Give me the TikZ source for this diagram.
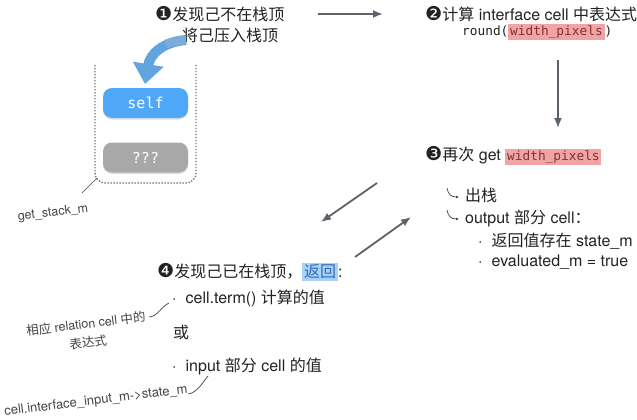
\documentclass[tikz,border=0pt]{standalone}
\usepackage{fontspec}
\setmainfont{TeX Gyre Heros}
\setmonofont{DejaVu Sans Mono}
\newfontfamily\cjk{Noto Sans CJK SC}
\newfontfamily\dv[Scale=1.2]{DejaVu Sans}
\usetikzlibrary{arrows.meta,shadows}
\definecolor{arr}{HTML}{5C636B}
\definecolor{txt}{HTML}{222222}
\definecolor{ann}{HTML}{444444}
\definecolor{hlred}{HTML}{F2A3A3}
\definecolor{hlredtxt}{HTML}{7A3535}
\definecolor{hlblue}{HTML}{A9D1F7}
\definecolor{hlbluetxt}{HTML}{2F6FB5}
\definecolor{selfblue}{HTML}{4FA8F7}
\definecolor{qgray}{HTML}{A8A8A8}
\definecolor{bigarrow}{HTML}{62A4DE}
\definecolor{bigarrowtop}{HTML}{8AB3D6}
\definecolor{dots}{HTML}{777777}
\newcommand\zh[1]{{\cjk #1}}
\newcommand\hlbox[3]{{\setlength\fboxsep{1.8pt}\colorbox{#1}{\color{#2}#3}}}
\tikzset{
  lbl/.style={inner sep=0pt, anchor=west, text=txt, font=\fontsize{16}{19}\selectfont},
  annot/.style={inner sep=0pt, text=ann, font=\fontsize{12.5}{15}\selectfont, rotate=7, align=center},
  flow/.style={draw=arr, line width=1.8pt, -{Latex[length=10pt,width=8pt]}},
  hook/.style={draw=ann, line width=0.7pt, -{Latex[length=3pt,width=3pt]}},
  leader/.style={draw=ann, line width=0.7pt},
  cellbox/.style={rounded corners=9pt, minimum width=85pt, minimum height=30pt, inner sep=0pt,
     text=white, font=\ttfamily\fontsize{15}{18}\selectfont,
     drop shadow={shadow xshift=0pt, shadow yshift=-1.5pt, opacity=0.25}},
}
\begin{document}
\begin{tikzpicture}[x=1pt,y=-1pt]
\useasboundingbox (0,0) rectangle (637,420);
\fill[white] (0,0) rectangle (637,420);

% step 1
\node[lbl] (t1a) at (155,14) {{\dv ❶}\zh{发现己不在栈顶}};
\node[lbl] (t1b) at (182,35) {\zh{将己压入栈顶}};

% step 2
\node[lbl] (t2a) at (425,14) {{\dv ❷}\zh{计算} interface cell \zh{中表达式}};
\node[lbl, font=\ttfamily\fontsize{12.8}{15}\selectfont] (t2b) at (462,32) {round(\hlbox{hlred}{hlredtxt}{width\_pixels})};

% step 3
\node[lbl] (t3) at (425,156) {{\dv ❸}\zh{再次} get \hlbox{hlred}{hlredtxt}{\ttfamily\fontsize{12.8}{15}\selectfont width\_pixels}};
\node[lbl] (s1) at (465,195) {\zh{出栈}};
\node[lbl] (s2) at (465,218) {output \zh{部分} cell\zh{：}};
\node[lbl] (s3) at (478,241) {·\hspace{9pt}\zh{返回值存在} state\_m};
\node[lbl] (s4) at (478,262) {·\hspace{9pt}evaluated\_m = true};

% step 4
\node[lbl] (t4) at (157,272) {{\dv ❹}\zh{发现己已在栈顶，}\hlbox{hlblue}{hlbluetxt}{\zh{返回}}:};
\node[lbl] (l1) at (172,298) {·\hspace{9pt}cell.term() \zh{计算的值}};
\node[lbl] (l2) at (173,332) {\zh{或}};
\node[lbl] (l3) at (172,366) {·\hspace{9pt}input \zh{部分} cell \zh{的值}};

% flow arrows
\coordinate (a1s) at (318,14); \coordinate (a1e) at (383,14);
\draw[flow] (a1s) -- (a1e);
\coordinate (a2s) at (558,60); \coordinate (a2e) at (558,128);
\draw[flow] (a2s) -- (a2e);
\coordinate (a3s) at (377,183); \coordinate (a3e) at (321,222);
\draw[flow] (a3s) -- (a3e);
\coordinate (a4s) at (355,257); \coordinate (a4e) at (411,217);
\draw[flow] (a4s) -- (a4e);

% hook arrows
\coordinate (h1s) at (447,188); \coordinate (h1e) at (459,197);
\draw[hook] (h1s) .. controls (448,194) and (451,197) .. (h1e);
\coordinate (h2s) at (447,210); \coordinate (h2e) at (459,219);
\draw[hook] (h2s) .. controls (448,216) and (451,219) .. (h2e);

% stack
\draw[dots, line width=1.4pt, dash pattern=on 1.4pt off 1.6pt, rounded corners=10pt]
  (95,65) -- (95,183) -- (196,183) -- (196,65);
\node[cellbox, fill=selfblue] (self) at (145.5,103) {self};
\node[cellbox, fill=qgray] (qq) at (145.5,157.5) {???};

% big curved arrow
\coordinate (bas) at (186,40); \coordinate (bae) at (145,84);
\draw[bigarrow, line width=10pt, -{Triangle[length=20pt,width=30pt]}]
  (bas) .. controls (163,42) and (150,54) .. (bae);
\draw[bigarrowtop, line width=9pt, opacity=0.6]
  (bas) .. controls (178,40.3) and (172,41.5) .. (166,44);

% annotations
\node[annot] (gs) at (53,213) {get\_stack\_m};
\coordinate (gs1) at (82,193); \coordinate (gs2) at (97,178);
\draw[leader] (gs1) -- (gs2);

\node[annot] (rel) at (87,333) {\zh{相应} relation cell \zh{中的}\\[4pt]\zh{表达式}};
\coordinate (rl1) at (149,317); \coordinate (rl2) at (169,303);
\draw[leader] (rl1) .. controls (157,317) and (162,306) .. (rl2);

\node[annot, font=\fontsize{13}{15}\selectfont] (inp) at (96,401) {cell.interface\_input\_m->state\_m};
\coordinate (ip1) at (188,394); \coordinate (ip2) at (208,376);
\draw[leader] (ip1) .. controls (197,393) and (203,382) .. (ip2);
\end{tikzpicture}
\end{document}
